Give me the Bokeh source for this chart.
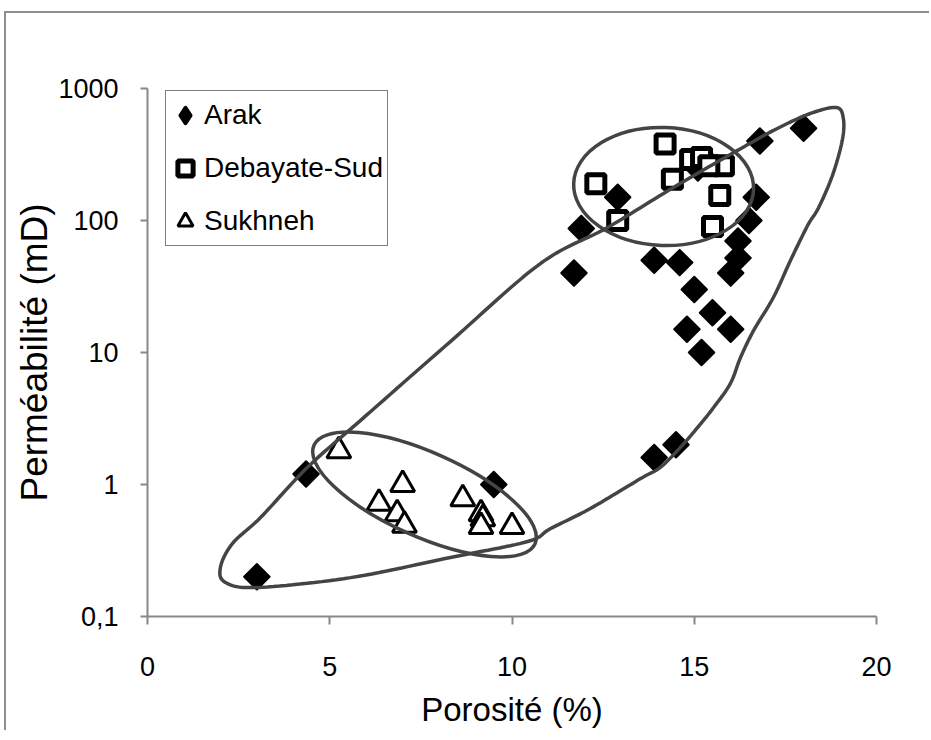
import numpy as np
from bokeh.plotting import figure
from bokeh.layouts import column
from bokeh.models import (Range1d, FixedTicker, BasicTickFormatter, Legend,
                          LegendItem)
from bokeh.embed import file_html
from bokeh.resources import INLINE

# ---------------- data ----------------
arak_x = [3.0, 4.35, 9.5, 11.7, 11.9, 12.9, 13.9, 14.6, 13.9, 14.5, 15.0, 15.5,
          14.8, 16.0, 15.2, 16.0, 16.2, 16.2, 16.5, 16.7, 16.8, 18.0, 15.1, 15.3]
arak_y = [0.2, 1.2, 1.0, 40, 87, 150, 50, 48, 1.6, 2.0, 30, 20,
          15, 15, 10, 40, 52, 70, 100, 150, 400, 500, 250, 290]

deb_x = [14.2, 12.3, 12.9, 14.4, 15.8, 15.7, 15.5, 14.9, 15.2, 15.4]
deb_y = [380, 190, 100, 205, 260, 155, 90, 290, 300, 260]

suk_x = [5.25, 7.0, 6.35, 6.85, 7.05, 8.65, 9.15, 9.2, 9.15, 10.0]
suk_y = [1.8, 1.0, 0.72, 0.6, 0.49, 0.78, 0.6, 0.55, 0.48, 0.48]

x_ticks = [0, 5, 10, 15, 20]
y_ticks = [0.1, 1, 10, 100, 1000]
y_tick_labels = {0.1: "0,1", 1: "1", 10: "10", 100: "100", 1000: "1000"}

# outline drawn around all samples (control points)
env_x = [2.00, 2.33, 3.10, 4.39, 5.84, 8.31, 10.78, 12.62, 14.43, 16.27, 17.28,
         18.19, 18.90, 19.09, 19.06, 18.79, 18.41, 18.11, 17.64, 17.17, 16.63,
         16.27, 15.99, 15.53, 15.09, 14.62, 14.07, 13.53, 12.15, 11.06, 10.43,
         8.31, 5.57, 3.02, 2.14]
env_y = [0.235, 0.357, 0.562, 1.35, 3.05, 12.1, 47.2, 88.5, 178, 350, 498,
         647, 718, 593, 404, 219, 125, 91.6, 49.8, 26.1, 14.7,
         9.17, 5.82, 3.83, 2.70, 1.91, 1.35, 1.11, 0.658, 0.464, 0.37,
         0.28, 0.197, 0.166, 0.181]

# group ellipses: centre (data), size (screen px), angle (deg)
ell_x = [14.16, 7.6]
ell_y = [181, 0.84]
ell_w = [180, 242]
ell_h = [118, 84]
ell_a = [-2, -24]

FONT = "Liberation Sans"
AXIS_GREY = "#888888"
LINE_GREY = "#444444"


def closed_spline(xs, ys, n=14, k=3.62):
    """Smooth closed Catmull-Rom curve through control points (x, log10 y)."""
    px = np.array(xs, float)
    py = np.log10(np.array(ys, float)) * k
    m = len(px)
    ox, oy = [], []
    for i in range(m):
        p0 = np.array([px[(i - 1) % m], py[(i - 1) % m]])
        p1 = np.array([px[i], py[i]])
        p2 = np.array([px[(i + 1) % m], py[(i + 1) % m]])
        p3 = np.array([px[(i + 2) % m], py[(i + 2) % m]])
        for t in np.linspace(0, 1, n, endpoint=False):
            t2, t3 = t * t, t * t * t
            pt = 0.5 * ((2 * p1) + (-p0 + p2) * t + (2 * p0 - 5 * p1 + 4 * p2 - p3) * t2
                        + (-p0 + 3 * p1 - 3 * p2 + p3) * t3)
            ox.append(pt[0]); oy.append(pt[1])
    ox.append(ox[0]); oy.append(oy[0])
    return ox, list(10 ** (np.array(oy) / k))


p = figure(width=925, height=719,
           x_range=Range1d(0, 20), y_range=Range1d(0.1, 1000), y_axis_type="log",
           output_backend="svg", toolbar_location=None,
           min_border_left=141, min_border_right=55, min_border_top=75, min_border_bottom=116)
p.grid.visible = False
p.outline_line_color = None
p.background_fill_color = "white"
p.border_fill_color = "white"

for ax in (p.xaxis[0], p.yaxis[0]):
    ax.axis_line_color = AXIS_GREY
    ax.axis_line_width = 2
    ax.major_tick_line_color = AXIS_GREY
    ax.major_tick_line_width = 2
    ax.major_tick_in = 0
    ax.minor_tick_line_color = None
    ax.major_label_text_font = FONT
    ax.major_label_text_font_size = "27px"
    ax.major_label_text_color = "black"
    ax.axis_label_text_font = FONT
    ax.axis_label_text_font_style = "normal"
    ax.axis_label_text_color = "black"

p.xaxis.ticker = FixedTicker(ticks=x_ticks)
p.xaxis.major_tick_out = 8
p.xaxis.major_label_standoff = 32
p.xaxis.axis_label = "Porosité (%)"
p.xaxis.axis_label_text_font_size = "33px"
p.xaxis.axis_label_standoff = 12

p.yaxis.ticker = FixedTicker(ticks=y_ticks)
p.yaxis.formatter = BasicTickFormatter(use_scientific=False)
p.yaxis.major_label_overrides = y_tick_labels
p.yaxis.major_label_text_align = "right"
p.yaxis.major_tick_out = 7
p.yaxis.major_label_standoff = 22
p.yaxis.axis_label = "Perméabilité (mD)"
p.yaxis.axis_label_text_font_size = "37px"
p.yaxis.axis_label_standoff = 0

r_arak = p.scatter(arak_x, arak_y, marker="square", size=18, angle=np.pi / 4,
                   fill_color="black", line_color="black", line_width=2, line_join="round")
r_deb = p.scatter(deb_x, deb_y, marker="square", size=18,
                  fill_color="white", line_color="black", line_width=5)
r_suk = p.scatter(suk_x, suk_y, marker="triangle", size=24,
                  fill_color="white", line_color="black", line_width=3)
# legend swatch for the Arak series (legend markers are never rotated):
# same data, hidden in the plot, drawn only in the legend
r_arak_key = p.scatter(arak_x, arak_y, marker="diamond", size=18, visible=False,
                       fill_color="black", line_color="black",
                       line_width=4, line_join="round")

ex, ey = closed_spline(env_x, env_y)
p.line(ex, ey, line_color=LINE_GREY, line_width=3.5)

p.ellipse(x=ell_x, y=ell_y, width=ell_w, height=ell_h, angle=ell_a,
          width_units="screen", height_units="screen", angle_units="deg",
          fill_color=None, line_color=LINE_GREY, line_width=3.5)

legend = Legend(items=[LegendItem(label="Arak", renderers=[r_arak_key]),
                       LegendItem(label="Debayate-Sud", renderers=[r_deb]),
                       LegendItem(label="Sukhneh", renderers=[r_suk])],
                location=(18, 370), glyph_width=38, glyph_height=48, label_width=183,
                label_standoff=0, padding=0, spacing=5, margin=0,
                inactive_fill_alpha=0.0,
                label_text_font=FONT, label_text_font_size="28px", label_text_color="black",
                border_line_color="black", border_line_width=1.5,
                background_fill_color="white", background_fill_alpha=1.0)
p.add_layout(legend)

root = column(p, styles={"box-shadow": "-2px -2px 0 0 #8f8f8f",
                         "margin-left": "6px", "margin-top": "13px"})

html = file_html(root, INLINE)
html = html.replace("</head>", "<style>html, body { overflow: hidden; }</style></head>", 1)
open("out.html", "w").write(html)
